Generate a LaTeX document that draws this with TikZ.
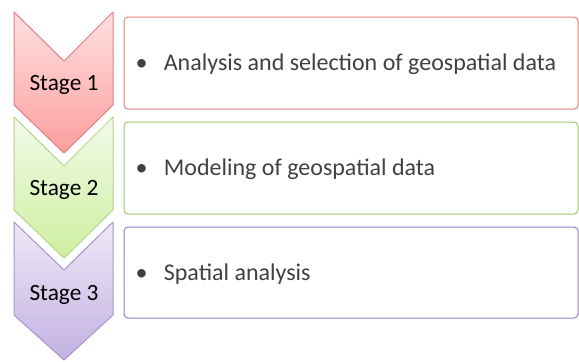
\documentclass[tikz,border=0pt]{standalone}
\usepackage{fontspec}
\setmainfont{Carlito}

\definecolor{redTop}{RGB}{255,224,224}
\definecolor{redBot}{RGB}{252,158,158}
\definecolor{redLine}{RGB}{226,128,128}
\definecolor{greenTop}{RGB}{242,250,232}
\definecolor{greenBot}{RGB}{205,240,160}
\definecolor{greenLine}{RGB}{182,212,138}
\definecolor{greenBox}{RGB}{162,200,105}
\definecolor{purpleTop}{RGB}{238,232,246}
\definecolor{purpleBot}{RGB}{194,178,226}
\definecolor{purpleLine}{RGB}{168,148,204}
\definecolor{purpleBox}{RGB}{150,125,195}
\definecolor{textGray}{RGB}{64,64,64}

\tikzset{every picture/.style={line width=0.75pt}}
\tikzset{
  stagetext/.style={anchor=base,inner sep=0.75pt,font=\fontsize{17.5}{20}\selectfont,text=black},
  itemtext/.style={anchor=base west,inner sep=0.75pt,font=\fontsize{18}{21}\selectfont,text=textGray},
  chevron/.style={preaction={draw=white,line width=3pt},line join=round}
}

\begin{document}
\begin{tikzpicture}[x=0.75pt,y=0.75pt,yscale=-1,xscale=1]
        \useasboundingbox (0,0) rectangle (579,361);

        %Shape: Rectangle
        \draw [draw=redLine ,rounded corners=3 ] (124,17) rectangle (578,109) ;
        %Shape: Rectangle
        \draw [draw=greenBox ,rounded corners=3 ] (124,122) rectangle (578,214) ;
        %Shape: Rectangle
        \draw [draw=purpleBox ,rounded corners=3 ] (124,227) rectangle (578,318) ;

        %Shape: Chevron
        \draw [chevron ,draw=purpleLine ,top color=purpleTop ,bottom color=purpleBot ] (14,222) -- (64,270) -- (113,222) -- (113,315) -- (64,360) -- (14,315) -- cycle ;
        %Shape: Chevron
        \draw [chevron ,draw=greenLine ,top color=greenTop ,bottom color=greenBot ] (14,117) -- (64,166) -- (113,117) -- (113,210) -- (64,258) -- (14,210) -- cycle ;
        %Shape: Chevron
        \draw [chevron ,draw=redLine ,top color=redTop ,bottom color=redBot ] (14,12) -- (64,61) -- (113,12) -- (113,105) -- (64,153) -- (14,105) -- cycle ;

        % Text Node
        \node [stagetext] (s1) at (64,90.5) {Stage 1};
        % Text Node
        \node [stagetext] (s2) at (64,195.5) {Stage 2};
        % Text Node
        \node [stagetext] (s3) at (64,300.5) {Stage 3};

        % Text Node
        \node [itemtext] (t1) at (134,70.5) {\textbullet\hskip 12.3pt Analysis and selection of geospatial data};
        % Text Node
        \node [itemtext] (t2) at (134,175.5) {\textbullet\hskip 12.3pt Modeling of geospatial data};
        % Text Node
        \node [itemtext] (t3) at (134,280.5) {\textbullet\hskip 12.3pt Spatial analysis};
    \end{tikzpicture}
\end{document}
